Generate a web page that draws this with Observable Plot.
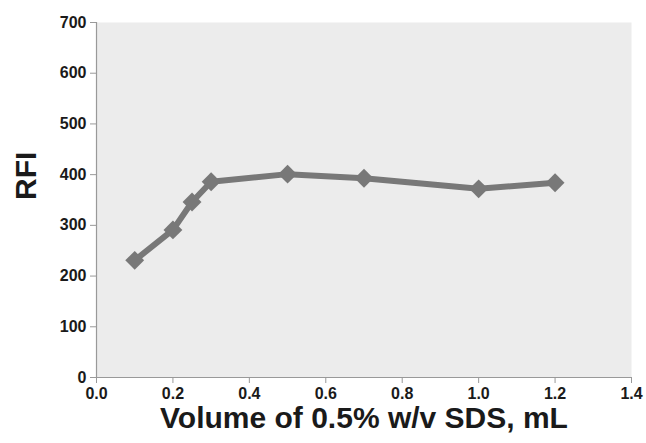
<!DOCTYPE html>
<html>
<head>
<meta charset="utf-8">
<script src="https://cdn.jsdelivr.net/npm/d3@7"></script>
<script src="https://cdn.jsdelivr.net/npm/@observablehq/plot@0.6"></script>
<style>
  html, body { margin: 0; padding: 0; background: #fff; }
  svg { font-family: "Liberation Sans", Arial, sans-serif; }
</style>
</head>
<body>
<div id="chart"></div>
<script>
const volume = [0.1, 0.2, 0.25, 0.3, 0.5, 0.7, 1.0, 1.2];
const rfi = [231, 291, 346, 386, 401, 393, 372, 384];
const xTicks = [0, 0.2, 0.4, 0.6, 0.8, 1.0, 1.2, 1.4];
const yTicks = [0, 100, 200, 300, 400, 500, 600, 700];

const data = volume.map((v, i) => ({x: v, y: rfi[i]}));

const chart = Plot.plot({
  width: 646,
  height: 443,
  marginLeft: 96,
  marginRight: 15,
  marginTop: 22,
  marginBottom: 66,
  style: {fontFamily: '"Liberation Sans", Arial, sans-serif', background: "#fff"},
  x: {domain: [0, 1.4]},
  y: {domain: [0, 700]},
  marks: [
    Plot.frame({fill: "#ececec", stroke: null}),
    Plot.ruleX([0], {stroke: "#999", strokeWidth: 1.2}),
    Plot.ruleY([0], {stroke: "#999", strokeWidth: 1.2}),
    Plot.axisY({ticks: yTicks, tickSize: 6, tickPadding: 4, stroke: "#999", fontSize: 16, fontWeight: "bold", fill: "#1a1a1a", label: null}),
    Plot.axisX({ticks: xTicks, tickSize: 6, tickPadding: 4, stroke: "#999", tickFormat: d3.format(".1f"), fontSize: 16, fontWeight: "bold", fill: "#1a1a1a", label: null}),
    Plot.line(data, {x: "x", y: "y", stroke: "#787878", strokeWidth: 6}),
    Plot.dot(data, {x: "x", y: "y", symbol: "diamond2", r: 8.5, fill: "#787878", stroke: null}),
    Plot.text(["Volume of 0.5% w/v SDS, mL"], {frameAnchor: "bottom", lineAnchor: "middle", dy: 41, fontSize: 30, fontWeight: "bold", fill: "#1a1a1a", text: d => d}),
    Plot.text(["RFI"], {frameAnchor: "left", lineAnchor: "middle", dx: -70, rotate: -90, fontSize: 30, fontWeight: "bold", fill: "#1a1a1a", text: d => d})
  ]
});
document.getElementById("chart").appendChild(chart);
</script>
</body>
</html>
